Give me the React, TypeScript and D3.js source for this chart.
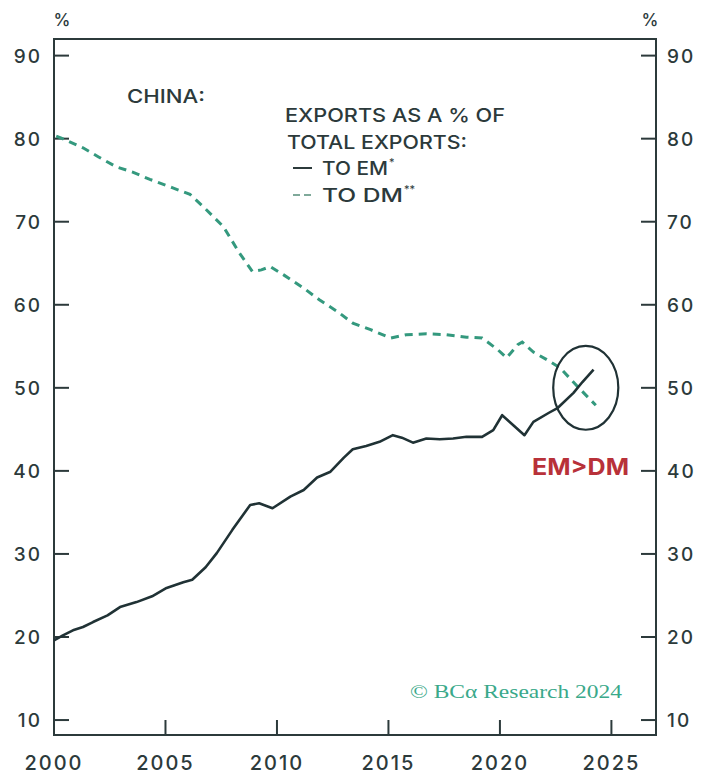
import React from "react";
import * as d3 from "d3";

// China: exports to emerging markets (EM) vs developed markets (DM), % of total exports
const emYears = [
  2000.0, 2000.4, 2000.85, 2001.3, 2001.75, 2002.4, 2002.96, 2003.7, 2004.4, 2005.05,
  2005.8, 2006.2, 2006.8, 2007.3, 2008.0, 2008.8, 2009.2, 2009.8, 2010.6, 2011.2,
  2011.8, 2012.4, 2013.0, 2013.4, 2014.0, 2014.6, 2015.2, 2015.6, 2016.1, 2016.7,
  2017.3, 2017.9, 2018.5, 2019.2, 2019.7, 2020.1, 2020.6, 2021.1, 2021.5, 2022.2,
  2022.6, 2023.3, 2023.7, 2024.2,
];
const emValues = [
  19.6, 20.2, 20.8, 21.2, 21.8, 22.6, 23.6, 24.2, 24.9, 25.9,
  26.6, 26.9, 28.4, 30.1, 32.9, 35.9, 36.1, 35.5, 36.9, 37.7,
  39.2, 39.9, 41.6, 42.6, 43.0, 43.5, 44.3, 44.0, 43.4, 43.9,
  43.8, 43.9, 44.1, 44.1, 44.9, 46.7, 45.5, 44.3, 45.9, 47.0,
  47.6, 49.4, 50.7, 52.2,
];

const dmYears = [
  2000.1, 2000.3, 2001.3, 2002.0, 2002.8, 2003.5, 2004.3, 2005.3, 2006.1, 2006.7,
  2007.6, 2008.3, 2008.9, 2009.3, 2009.7, 2010.3, 2011.2, 2011.9, 2012.7, 2013.4,
  2014.2, 2015.1, 2015.8, 2016.7, 2017.6, 2018.5, 2019.2, 2019.9, 2020.3, 2020.8,
  2021.0, 2021.5, 2022.1, 2022.7, 2023.5, 2024.3,
];
const dmValues = [
  80.3, 80.1, 78.9, 77.8, 76.6, 76.0, 75.1, 74.1, 73.3, 71.8,
  69.4, 66.3, 64.0, 64.2, 64.6, 63.6, 62.0, 60.6, 59.2, 57.8,
  57.0, 56.0, 56.4, 56.5, 56.4, 56.1, 56.0, 54.6, 53.6, 55.2,
  55.5, 54.3, 53.4, 52.4, 50.1, 47.9,
];

const yTicks = [10, 20, 30, 40, 50, 60, 70, 80, 90];
const xTicks = [2000, 2005, 2010, 2015, 2020, 2025];

const legendLines = ["EXPORTS AS A % OF", "TOTAL EXPORTS:"];

const W = 711;
const H = 776;
const left = 54;
const right = 656;
const top = 39;
const bottom = 735;
const tickLen = 15;

const ink = "#2c3a3b";
const emColor = "#203235";
const dmColor = "#34997e";
const redColor = "#b83139";
const font = "Inter, 'Noto Sans', sans-serif";

export default function App() {
  const x = d3.scaleLinear().domain([2000, 2027]).range([left, right]);
  const y = d3.scaleLinear().domain([8.2, 92]).range([bottom, top]);

  const line = d3
    .line<[number, number]>()
    .x((d) => x(d[0]))
    .y((d) => y(d[1]))
    .curve(d3.curveLinear);

  const emPath = line(emYears.map((yr, i) => [yr, emValues[i]]) as [number, number][]) || "";
  const dmPath = line(dmYears.map((yr, i) => [yr, dmValues[i]]) as [number, number][]) || "";

  // crossover highlight ellipse, placed in data coordinates
  const cx = x(2023.85);
  const cy = y(50);
  const rx = x(2023.85 + 1.46) - cx;
  const ry = cy - y(50 + 5.05);

  return (
    <svg width={W} height={H} style={{ position: "absolute", left: 0, top: 0, background: "#fff" }}>
      <rect x={0} y={0} width={W} height={H} fill="#fff" />

      {/* unit labels */}
      <text x={62} y={26} fontFamily={font} fontSize={17} fontWeight={500} fill={ink} textAnchor="middle">%</text>
      <text x={650} y={26} fontFamily={font} fontSize={17} fontWeight={500} fill={ink} textAnchor="middle">%</text>

      {/* frame */}
      <rect x={left} y={top} width={right - left} height={bottom - top} fill="none" stroke={ink} strokeWidth={2} />

      {/* y ticks, both sides */}
      {yTicks.map((t) => (
        <g key={t}>
          <line x1={left} x2={left + tickLen} y1={y(t)} y2={y(t)} stroke={ink} strokeWidth={2} />
          <line x1={right - tickLen} x2={right} y1={y(t)} y2={y(t)} stroke={ink} strokeWidth={2} />
          <text x={42} y={y(t) + 7} fontFamily={font} fontSize={19} fontWeight={500} letterSpacing={2} fill={ink} textAnchor="end">
            {t}
          </text>
          <text x={667} y={y(t) + 7} fontFamily={font} fontSize={19} fontWeight={500} letterSpacing={2} fill={ink} textAnchor="start">
            {t}
          </text>
        </g>
      ))}

      {/* x ticks */}
      {xTicks.map((t) => (
        <g key={t}>
          <line x1={x(t)} x2={x(t)} y1={bottom} y2={bottom - tickLen} stroke={ink} strokeWidth={2} />
          <text x={x(t)} y={770} fontFamily={font} fontSize={20} fontWeight={500} letterSpacing={2} fill={ink} textAnchor="middle">
            {t}
          </text>
        </g>
      ))}

      {/* series */}
      <path d={dmPath} fill="none" stroke={dmColor} strokeWidth={3} strokeDasharray="8,6" />
      <path d={emPath} fill="none" stroke={emColor} strokeWidth={2.6} strokeLinejoin="round" />

      {/* annotation */}
      <ellipse cx={cx} cy={cy} rx={rx} ry={ry} fill="none" stroke={emColor} strokeWidth={2.2} />
      <text x={532} y={475} fontFamily={font} fontSize={23} fontWeight={700} fill={redColor} textLength={97} lengthAdjust="spacingAndGlyphs">
        EM&gt;DM
      </text>

      {/* title and legend */}
      <text x={127} y={103} fontFamily={font} fontSize={19} fontWeight={500} fill={ink} textLength={78} lengthAdjust="spacingAndGlyphs">
        CHINA:
      </text>
      {legendLines.map((s, i) => (
        <text
          key={s}
          x={285 + (i === 1 ? 2 : 0)}
          y={122 + i * 26.5}
          fontFamily={font}
          fontSize={19}
          fontWeight={500}
          fill={ink}
          textLength={i === 0 ? 220 : 180}
          lengthAdjust="spacingAndGlyphs"
        >
          {s}
        </text>
      ))}
      <line x1={293} x2={312} y1={168} y2={168} stroke={ink} strokeWidth={2} />
      <text x={322} y={175} fontFamily={font} fontSize={19} fontWeight={500} fill={ink} textLength={66} lengthAdjust="spacingAndGlyphs">
        TO EM
      </text>
      <text x={389} y={166} fontFamily={font} fontSize={11} fill={ink}>*</text>
      <line x1={293} x2={311} y1={195} y2={195} stroke="#7fa99a" strokeWidth={2} strokeDasharray="7,4" />
      <text x={322} y={202} fontFamily={font} fontSize={19} fontWeight={500} fill={ink} textLength={81} lengthAdjust="spacingAndGlyphs">
        TO DM
      </text>
      <text x={404} y={193} fontFamily={font} fontSize={11} fill={ink}>**</text>

      {/* source */}
      <text
        x={410}
        y={698}
        fontFamily="'Liberation Serif', 'DejaVu Serif', serif"
        fontSize={19}
        fill="#3aa98a"
        textLength={212}
        lengthAdjust="spacingAndGlyphs"
      >
        © BCα Research 2024
      </text>
    </svg>
  );
}
